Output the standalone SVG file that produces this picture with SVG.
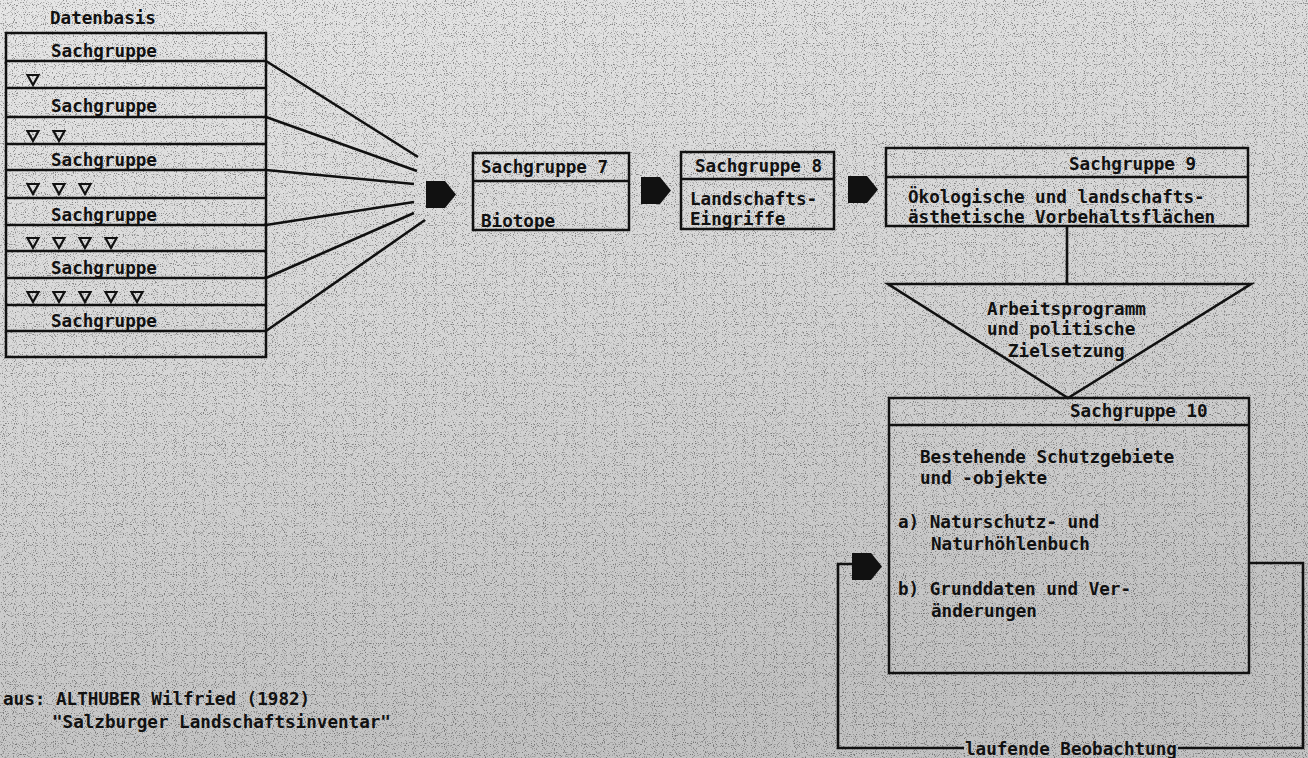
<svg xmlns="http://www.w3.org/2000/svg" width="1308" height="758" viewBox="0 0 1308 758">
<defs>
<linearGradient id="bg" x1="0" y1="0" x2="0.3" y2="1">
<stop offset="0" stop-color="#e6e6e6"/>
<stop offset="0.5" stop-color="#d6d6d6"/>
<stop offset="1" stop-color="#c2c2c2"/>
</linearGradient>
<filter id="noise" x="0" y="0" width="100%" height="100%">
<feTurbulence type="fractalNoise" baseFrequency="0.9" numOctaves="1" seed="7"/>
<feColorMatrix type="matrix" values="0 0 0 0 0  0 0 0 0 0  0 0 0 0 0  6 0 0 0 -3.3"/>
</filter>
<path id="tri" d="M-5.5,-5 H5.5 L0,5 Z"/>
<path id="arr" d="M0,0 H19 L30,13.5 L19,27 H0 Z"/>
</defs>
<style>
text{font-family:"DejaVu Sans Mono","Liberation Mono",monospace;font-weight:bold;font-size:17.6px;fill:#111}
.box{fill:none;stroke:#111;stroke-width:2.5}
.ln{fill:none;stroke:#111;stroke-width:2.6}
.tri{fill:none;stroke:#111;stroke-width:2.2}
.arr{fill:#111}
</style>
<rect width="1308" height="758" fill="url(#bg)"/>
<rect width="1308" height="758" filter="url(#noise)" opacity="0.4"/>

<g id="datenbasis">
<text x="50" y="24">Datenbasis</text>
<rect class="box" x="6" y="33" width="260" height="324"/>
<path class="ln" d="M6,61 H266 M6,88 H266 M6,117 H266 M6,144 H266 M6,170 H266 M6,198 H266 M6,225 H266 M6,251 H266 M6,278 H266 M6,305 H266 M6,331 H266"/>
<text x="51" y="57">Sachgruppe</text>
<text x="51" y="112">Sachgruppe</text>
<text x="51" y="166">Sachgruppe</text>
<text x="51" y="221">Sachgruppe</text>
<text x="51" y="274">Sachgruppe</text>
<text x="51" y="327">Sachgruppe</text>
<g class="tri">
<use href="#tri" x="33" y="80"/>
<use href="#tri" x="33" y="136"/><use href="#tri" x="59" y="136"/>
<use href="#tri" x="33" y="189"/><use href="#tri" x="59" y="189"/><use href="#tri" x="85" y="189"/>
<use href="#tri" x="33" y="243"/><use href="#tri" x="59" y="243"/><use href="#tri" x="85" y="243"/><use href="#tri" x="111" y="243"/>
<use href="#tri" x="33" y="297"/><use href="#tri" x="59" y="297"/><use href="#tri" x="85" y="297"/><use href="#tri" x="111" y="297"/><use href="#tri" x="137" y="297"/>
</g>
</g>

<g id="connectors">
<path class="ln" d="M266,61 L418,157 M266,117 L417,171 M266,170 L414,184 M266,225 L414,202 M266,278 L414,213 M266,331 L425,220"/>
<use class="arr" href="#arr" x="426" y="181"/>
<use class="arr" href="#arr" x="641" y="177"/>
<use class="arr" href="#arr" x="848" y="176"/>
<path class="ln" d="M1067,226 V284"/>
<path class="ln" d="M1249,563 H1303 V748 H1178 M964,748 H838 V564 H852"/>
<use class="arr" href="#arr" x="852" y="553"/>
<text x="965" y="755">laufende Beobachtung</text>
</g>

<g id="sg7">
<rect class="box" x="473" y="153" width="156" height="77"/>
<path class="ln" d="M473,181 H629"/>
<text x="481" y="173">Sachgruppe 7</text>
<text x="481" y="227">Biotope</text>
</g>

<g id="sg8">
<rect class="box" x="681" y="152" width="153" height="77"/>
<path class="ln" d="M681,179 H834"/>
<text x="695" y="172">Sachgruppe 8</text>
<text x="690" y="205">Landschafts-</text>
<text x="690" y="225">Eingriffe</text>
</g>

<g id="sg9">
<rect class="box" x="886" y="148" width="362" height="78"/>
<path class="ln" d="M886,177 H1248"/>
<text x="1069" y="170">Sachgruppe 9</text>
<text x="908" y="203">Ökologische und landschafts-</text>
<text x="908" y="223">ästhetische Vorbehaltsflächen</text>
</g>

<g id="ziel">
<path class="ln" d="M888,284 H1251 L1068,398 Z"/>
<text x="987" y="315">Arbeitsprogramm</text>
<text x="987" y="335">und politische</text>
<text x="1008" y="357">Zielsetzung</text>
</g>

<g id="sg10">
<rect class="box" x="889" y="398" width="360" height="275"/>
<path class="ln" d="M889,425 H1249"/>
<text x="1070" y="417">Sachgruppe 10</text>
<text x="920" y="463">Bestehende Schutzgebiete</text>
<text x="920" y="484">und -objekte</text>
<text x="898" y="528">a) Naturschutz- und</text>
<text x="931" y="550">Naturhöhlenbuch</text>
<text x="898" y="595">b) Grunddaten und Ver-</text>
<text x="931" y="617">änderungen</text>
</g>

<g id="quelle">
<text x="3" y="705">aus: ALTHUBER Wilfried (1982)</text>
<text x="52" y="728">"Salzburger Landschaftsinventar"</text>
</g>
</svg>
